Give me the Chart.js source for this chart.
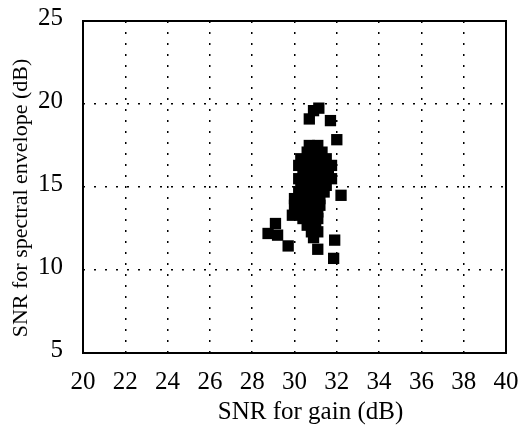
<!DOCTYPE html>
<html>
<head>
<meta charset="utf-8">
<script src="https://cdn.jsdelivr.net/npm/chart.js@4/dist/chart.umd.min.js"></script>
<style>
  html, body { margin: 0; padding: 0; background: #fff; }
  #wrap { width: 524px; height: 429px; }
</style>
</head>
<body>
<div id="wrap"><canvas id="snrChart" width="524" height="429"></canvas></div>
<script>
// valores: SNR de ganancia (x) y SNR de envolvente espectral (y)
const gainSnr = [
  28.75, 29.1, 29.2, 29.7, 31.1, 31.9, 31.85, 30.7, 30.9, 31.15, 31.7, 32.0, 32.2, 29.9,
  30.7, 31.1,
  30.6, 31.0, 31.3,
  30.3, 30.7, 31.1, 31.5,
  30.2, 30.6, 31.0, 31.4, 31.75,
  30.4, 30.8, 31.2, 31.6,
  30.2, 30.6, 31.0, 31.4, 31.75,
  30.3, 30.7, 31.1, 31.5,
  30.2, 30.6, 31.0, 31.4,
  30.0, 30.4, 30.8, 31.2,
  30.0, 30.4, 30.8, 31.2,
  30.3, 30.7, 31.1,
  30.4, 30.8, 31.1,
  30.6, 31.0,
  30.8, 31.1,
  30.9
];
const envelopeSnr = [
  12.2, 12.8, 12.1, 11.45, 11.25, 11.8, 10.7, 19.1, 19.6, 19.75, 19.0, 17.85, 14.5, 13.3,
  17.5, 17.5,
  17.1, 17.1, 17.1,
  16.7, 16.7, 16.7, 16.7,
  16.3, 16.3, 16.3, 16.3, 16.3,
  15.9, 15.9, 15.9, 15.9,
  15.5, 15.5, 15.5, 15.5, 15.5,
  15.1, 15.1, 15.1, 15.1,
  14.7, 14.7, 14.7, 14.7,
  14.3, 14.3, 14.3, 14.3,
  13.9, 13.9, 13.9, 13.9,
  13.5, 13.5, 13.5,
  13.1, 13.1, 13.1,
  12.7, 12.7,
  12.3, 12.3,
  11.95
];

const xTicks = [20, 22, 24, 26, 28, 30, 32, 34, 36, 38, 40];
const yTicks = [5, 10, 15, 20, 25];
const xTitulo = 'SNR for gain (dB)';
const yTitulo = 'SNR for spectral envelope (dB)';

const puntos = gainSnr.map((g, i) => ({ x: g, y: envelopeSnr[i] }));

const familia = '"Liberation Serif", "Times New Roman", serif';
const fuente = { family: familia, size: 25 };

// marco negro y títulos de los ejes (en el original están algo desplazados del centro)
const marco = {
  id: 'marco',
  afterDraw(chart) {
    const { ctx, chartArea: a } = chart;
    ctx.save();
    ctx.strokeStyle = '#000';
    ctx.lineWidth = 2;
    ctx.strokeRect(a.left, a.top, a.right - a.left, a.bottom - a.top);

    ctx.fillStyle = '#000';
    ctx.textAlign = 'center';
    ctx.textBaseline = 'middle';
    ctx.font = '25px ' + familia;
    ctx.fillText(xTitulo, (a.left + a.right) / 2 + 16, 412);

    ctx.translate(21, (a.top + a.bottom) / 2 + 11);
    ctx.rotate(-Math.PI / 2);
    ctx.font = '22px ' + familia;
    ctx.fillText(yTitulo, 0, 0);
    ctx.restore();
  }
};

new Chart(document.getElementById('snrChart').getContext('2d'), {
  type: 'scatter',
  data: {
    datasets: [{
      data: puntos,
      pointStyle: 'rect',
      pointRadius: 8,
      pointBorderWidth: 0,
      backgroundColor: '#000',
      borderColor: '#000'
    }]
  },
  options: {
    responsive: false,
    animation: false,
    layout: { padding: { top: 21, right: 18, left: 0, bottom: 0 } },
    plugins: { legend: { display: false }, tooltip: { enabled: false } },
    scales: {
      x: {
        type: 'linear',
        min: 20,
        max: 40,
        afterBuildTicks: s => { s.ticks = xTicks.map(v => ({ value: v })); },
        afterFit: s => { s.height = 76; s.paddingLeft = 0; s.paddingRight = 0; },
        ticks: { color: '#000', font: fuente, padding: 14, maxRotation: 0 },
        grid: { color: '#000', lineWidth: 1.5, drawTicks: false },
        border: { display: false, dash: [2, 9] },
        title: { display: false }
      },
      y: {
        type: 'linear',
        min: 5,
        max: 25,
        afterBuildTicks: s => { s.ticks = yTicks.map(v => ({ value: v })); },
        afterFit: s => { s.width = 83; s.paddingTop = 0; s.paddingBottom = 0; },
        ticks: { color: '#000', font: fuente, padding: 20, labelOffset: -3 },
        grid: { color: '#000', lineWidth: 1.5, drawTicks: false },
        border: { display: false, dash: [2, 9] },
        title: { display: false }
      }
    }
  },
  plugins: [marco]
});
</script>
</body>
</html>
